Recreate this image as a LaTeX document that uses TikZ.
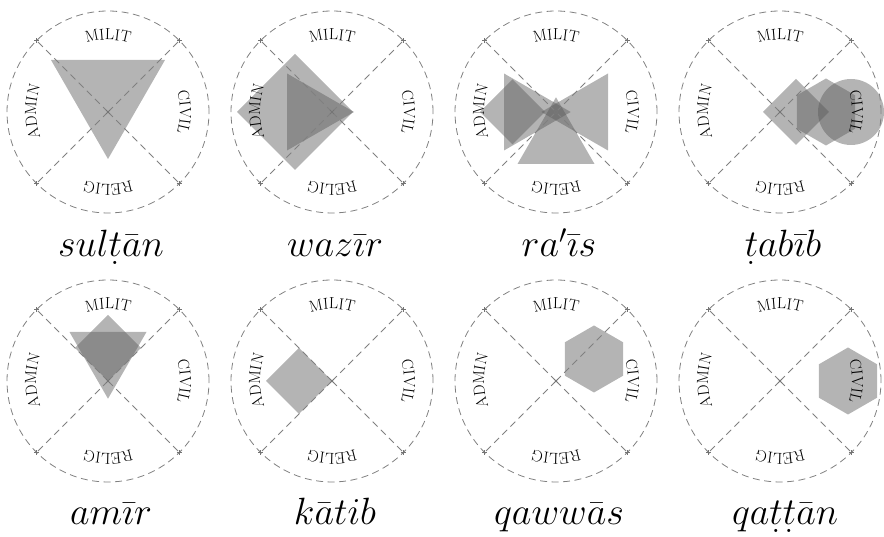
\RequirePackage{fix-cm}
\documentclass[tikz,border=0pt]{standalone}
\usetikzlibrary{decorations.text}
\newcommand{\udt}[1]{\mathord{\hbox{\ooalign{$#1$\cr\hidewidth\raisebox{-0.2em}{.}\hidewidth\cr}}}}
\newcommand{\arclbl}{\fontsize{16}{18}\selectfont}
\tikzset{
  dashline/.style={draw=black!50, line width=0.8pt, dash pattern=on 7pt off 4.5pt},
  markline/.style={draw=black!55, line width=0.6pt},
  blob/.style={fill=black!65, fill opacity=0.45, draw=none},
  lab/.style={anchor=base, inner sep=0pt, font=\fontsize{38}{44}\selectfont},
  arctext/.style={decorate, decoration={text along path, text align=center, text={|\arclbl|#1}}}
}
\newcommand{\drawwheel}[2]{%
\begin{scope}[shift={(#1,#2)}]
\draw[dashline] (0,0) circle[radius=101];
\foreach \a in {45,135,225,315} {%
  \draw[dashline] (0,0) -- (\a:101);
  \draw[markline] (\a:101) +(-2.5,0) -- +(2.5,0) +(0,-2.5) -- +(0,2.5);
}
\draw[markline] (0,0) +(-2,-2) -- +(2,2) +(-2,2) -- +(2,-2);
\path[arctext=MILIT] (135:72) arc[start angle=135, end angle=45, radius=72];
\path[arctext=CIVIL] (45:72) arc[start angle=45, end angle=-45, radius=72];
\path[arctext=RELIG] (-45:72) arc[start angle=-45, end angle=-135, radius=72];
\path[arctext=ADMIN] (225:72) arc[start angle=225, end angle=135, radius=72];
\end{scope}}
\begin{document}
\begin{tikzpicture}[x=1pt, y=1pt]
\useasboundingbox (0,0) rectangle (884,537);
% ---------- shapes ----------
% sultan
\begin{scope}[shift={(108,425)}]
\fill[blob] (-57,52) -- (57,52) -- (0,-47) -- cycle;
\end{scope}
% wazir
\begin{scope}[shift={(332,425)}]
\fill[blob] (-95,0) -- (-37,58) -- (21,0) -- (-37,-58) -- cycle;
\fill[blob] (-45,38.5) -- (22,0) -- (-45,-38.5) -- cycle;
\end{scope}
% ra'is
\begin{scope}[shift={(556,425)}]
\fill[blob] (-76,0) -- (-43.5,32.5) -- (-11,0) -- (-43.5,-32.5) -- cycle;
\fill[blob] (-52,38.5) -- (14.7,0) -- (-52,-38.5) -- cycle;
\fill[blob] (52,38.5) -- (-14.7,0) -- (52,-38.5) -- cycle;
\fill[blob] (-38.5,-52) -- (38.5,-52) -- (0,14.7) -- cycle;
\end{scope}
% tabib
\begin{scope}[shift={(780,425)}]
\fill[blob] (-17,0) -- (16,33) -- (49,0) -- (16,-33) -- cycle;
\fill[blob] (46,0) +(90:33.5) -- +(150:33.5) -- +(210:33.5) -- +(270:33.5) -- +(330:33.5) -- +(30:33.5) -- cycle;
\fill[blob] (71,0) circle[radius=33];
\end{scope}
% amir
\begin{scope}[shift={(108,156)}]
\fill[blob] (0,66) -- (33,33) -- (0,0) -- (-33,33) -- cycle;
\fill[blob] (-38.5,49) -- (38.5,49) -- (0,-17.7) -- cycle;
\end{scope}
% katib
\begin{scope}[shift={(332,156)}]
\fill[blob] (-66,0) -- (-33,33) -- (0,0) -- (-33,-33) -- cycle;
\end{scope}
% qawwas
\begin{scope}[shift={(556,156)}]
\fill[blob] (38,22) +(90:33.5) -- +(150:33.5) -- +(210:33.5) -- +(270:33.5) -- +(330:33.5) -- +(30:33.5) -- cycle;
\end{scope}
% qattan
\begin{scope}[shift={(780,156)}]
\fill[blob] (68,0) +(90:33.5) -- +(150:33.5) -- +(210:33.5) -- +(270:33.5) -- +(330:33.5) -- +(30:33.5) -- cycle;
\end{scope}
% ---------- wheels ----------
\drawwheel{108}{425}
\drawwheel{332}{425}
\drawwheel{556}{425}
\drawwheel{780}{425}
\drawwheel{108}{156}
\drawwheel{332}{156}
\drawwheel{556}{156}
\drawwheel{780}{156}
% ---------- labels ----------
\node[lab] (l1) at (111,280) {$sul\udt{t}\bar{a}n$};
\node[lab] (l2) at (335,280) {$waz\bar{\imath}r$};
\node[lab] (l3) at (559,280) {$ra'\bar{\imath}s$};
\node[lab] (l4) at (783,280) {$\udt{t}ab\bar{\imath}b$};
\node[lab] (l5) at (111,12) {$am\bar{\imath}r$};
\node[lab] (l6) at (335,12) {$k\bar{a}tib$};
\node[lab] (l7) at (559,12) {$qaww\bar{a}s$};
\node[lab] (l8) at (785,12) {$qa\udt{t}\udt{t}\bar{a}n$};
\end{tikzpicture}
\end{document}
